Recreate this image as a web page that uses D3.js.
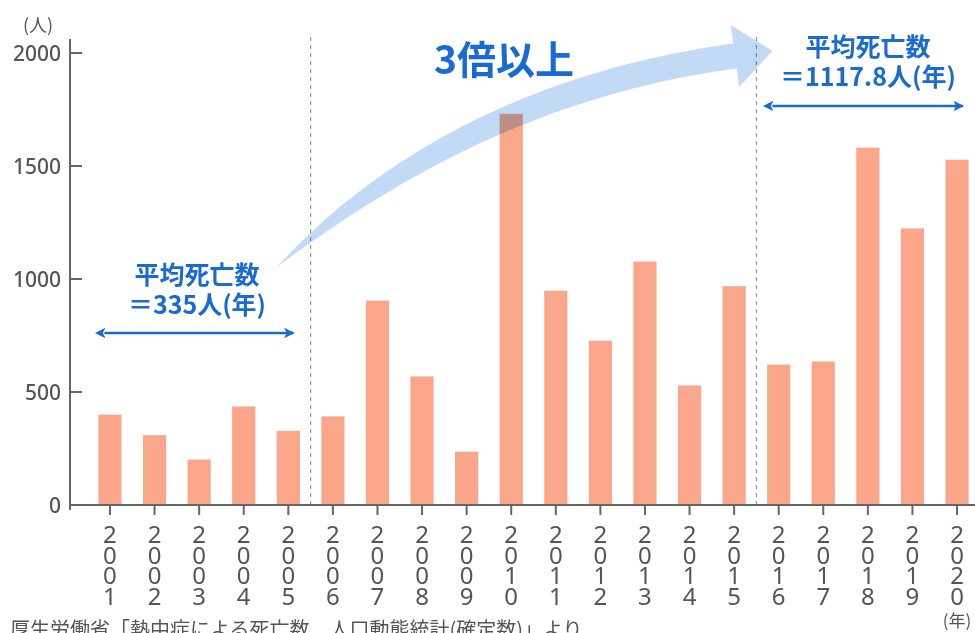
<!DOCTYPE html>
<html>
<head>
<meta charset="utf-8">
<script src="https://cdn.jsdelivr.net/npm/d3@7"></script>
<style>
  body { margin: 0; background: #fff; }
  svg { display: block; }
</style>
</head>
<body>
<div id="chart"></div>
<script>
// data
const years = ["2001","2002","2003","2004","2005","2006","2007","2008","2009","2010",
               "2011","2012","2013","2014","2015","2016","2017","2018","2019","2020"];
const deaths = [400, 309, 201, 436, 328, 392, 904, 569, 236, 1731,
                948, 727, 1077, 529, 968, 621, 635, 1581, 1224, 1528];
const yTicks = [0, 500, 1000, 1500, 2000];
const avgEarlyLabel = "＝335人(年)";
const avgLateLabel = "＝1117.8人(年)";
const avgTitle = "平均死亡数";
const growthLabel = "3倍以上";
const sourceText = "厚生労働省「熱中症による死亡数　人口動態統計(確定数)」より";

const data = years.map((y, i) => ({ year: y, value: deaths[i] }));

const W = 975, H = 633;
const blue = "#1a6ad6";
const axisColor = "#666";
const textColor = "#555";

const svg = d3.select("#chart").append("svg")
    .attr("width", W)
    .attr("height", H);

const x = d3.scaleBand()
    .domain(years)
    .range([87.7, 979.3])
    .paddingInner(0.48)
    .paddingOuter(0.24);

const y = d3.scaleLinear()
    .domain([0, 2000])
    .range([505, 53]);

const axisX = 70;
const cx = d => x(d) + x.bandwidth() / 2;

// bars
svg.selectAll(".bar")
    .data(data)
    .enter().append("rect")
    .attr("class", "bar")
    .attr("x", d => x(d.year))
    .attr("y", d => y(d.value))
    .attr("width", x.bandwidth())
    .attr("height", d => y(0) - y(d.value))
    .attr("fill", "#f9a68b");

// dashed separators between 2005/2006 and 2015/2016
const sep1 = (cx("2005") + cx("2006")) / 2;
const sep2 = (cx("2015") + cx("2016")) / 2;
[sep1, sep2].forEach(sx => {
    svg.append("line")
        .attr("x1", sx).attr("x2", sx)
        .attr("y1", 37).attr("y2", y(0))
        .attr("stroke", "#9a9a9a")
        .attr("stroke-width", 1.2)
        .attr("stroke-dasharray", "4,4");
});

// y axis
svg.append("line")
    .attr("x1", axisX).attr("x2", axisX)
    .attr("y1", 39).attr("y2", y(0) + 5)
    .attr("stroke", axisColor).attr("stroke-width", 2);

svg.selectAll(".ytick")
    .data(yTicks)
    .enter().append("line")
    .attr("x1", axisX).attr("x2", axisX + 12)
    .attr("y1", d => y(d)).attr("y2", d => y(d))
    .attr("stroke", axisColor).attr("stroke-width", 2);

svg.selectAll(".ylabel")
    .data(yTicks)
    .enter().append("text")
    .attr("x", 61)
    .attr("y", d => y(d) + 7.5)
    .attr("text-anchor", "end")
    .attr("font-family", "'Noto Sans', sans-serif")
    .attr("font-size", 21)
    .attr("font-weight", 500)
    .attr("fill", textColor)
    .text(d => d);

svg.append("text")
    .attr("x", 38).attr("y", 32)
    .attr("text-anchor", "middle")
    .attr("font-family", "'Noto Sans CJK JP', sans-serif")
    .attr("font-size", 18)
    .attr("fill", textColor)
    .text("(人)");

// x axis
svg.append("line")
    .attr("x1", axisX).attr("x2", W)
    .attr("y1", y(0)).attr("y2", y(0))
    .attr("stroke", axisColor).attr("stroke-width", 2);

svg.selectAll(".xtick")
    .data(years)
    .enter().append("line")
    .attr("x1", d => cx(d)).attr("x2", d => cx(d))
    .attr("y1", y(0)).attr("y2", y(0) + 10)
    .attr("stroke", axisColor).attr("stroke-width", 2);

// stacked digit labels
const xl = svg.selectAll(".xlabel")
    .data(years)
    .enter().append("text")
    .attr("text-anchor", "middle")
    .attr("font-family", "'Noto Sans', sans-serif")
    .attr("font-size", 24)
    .attr("fill", textColor);

xl.selectAll("tspan")
    .data(d => d.split("").map(c => ({ c, x: cx(d) })))
    .enter().append("tspan")
    .attr("x", d => d.x)
    .attr("y", (d, i) => 543 + i * 20.7)
    .text(d => d.c);

svg.append("text")
    .attr("x", cx("2020")).attr("y", 627)
    .attr("text-anchor", "middle")
    .attr("font-family", "'Noto Sans CJK JP', sans-serif")
    .attr("font-size", 17)
    .attr("fill", textColor)
    .text("(年)");

// source (cut off at bottom, as in the picture)
svg.append("text")
    .attr("x", 10).attr("y", 637)
    .attr("font-family", "'Noto Sans CJK JP', sans-serif")
    .attr("font-size", 20)
    .attr("fill", textColor)
    .text(sourceText);

// curved growth arrow
const P0 = [277, 267], P1 = [470, 92], P2 = [735, 56];
const bez = t => [
    (1 - t) * (1 - t) * P0[0] + 2 * t * (1 - t) * P1[0] + t * t * P2[0],
    (1 - t) * (1 - t) * P0[1] + 2 * t * (1 - t) * P1[1] + t * t * P2[1]
];
const tan = t => {
    const dx = 2 * (1 - t) * (P1[0] - P0[0]) + 2 * t * (P2[0] - P1[0]);
    const dy = 2 * (1 - t) * (P1[1] - P0[1]) + 2 * t * (P2[1] - P1[1]);
    const L = Math.hypot(dx, dy);
    return [dx / L, dy / L];
};
const upper = [], lower = [];
d3.range(0, 1.0001, 1 / 60).forEach(t => {
    const c = bez(t), d = tan(t);
    const n = [d[1], -d[0]];           // points up/left
    const w = 12.5 * (1 - Math.pow(1 - t, 4));
    upper.push([c[0] + n[0] * w, c[1] + n[1] * w]);
    lower.push([c[0] - n[0] * w, c[1] - n[1] * w]);
});
const cEnd = bez(1), dEnd = tan(1), nEnd = [dEnd[1], -dEnd[0]];
const head = [
    [cEnd[0] + nEnd[0] * 31, cEnd[1] + nEnd[1] * 31],
    [cEnd[0] + dEnd[0] * 38, cEnd[1] + dEnd[1] * 38],
    [cEnd[0] - nEnd[0] * 31, cEnd[1] - nEnd[1] * 31]
];
const poly = upper.concat(head, lower.reverse());
svg.append("path")
    .attr("d", d3.line()(poly) + "Z")
    .attr("fill", "#bcd6f5")
    .attr("opacity", 0.9)
    .style("mix-blend-mode", "multiply");

svg.append("text")
    .attr("x", 504).attr("y", 74)
    .attr("text-anchor", "middle")
    .attr("font-family", "'Noto Sans CJK JP', sans-serif")
    .attr("font-size", 39)
    .attr("font-weight", 700)
    .attr("fill", blue)
    .text(growthLabel);

// average annotations with double arrows
const defs = svg.append("defs");
["arrowS", "arrowE"].forEach((id, i) => {
    defs.append("marker")
        .attr("id", id)
        .attr("viewBox", "0 0 10 10")
        .attr("refX", i ? 9 : 1).attr("refY", 5)
        .attr("markerWidth", 4.2).attr("markerHeight", 4.2)
        .attr("markerUnits", "strokeWidth")
        .attr("orient", "auto-start-reverse")
        .append("path")
        .attr("d", "M0,0 L10,5 L0,10 L2.5,5 Z")
        .attr("fill", blue);
});

function avgNote(xc, yTop, label, ax1, ax2, ay) {
    svg.append("text")
        .attr("x", xc).attr("y", yTop)
        .attr("text-anchor", "middle")
        .attr("font-family", "'Noto Sans CJK JP', sans-serif")
        .attr("font-size", 25)
        .attr("font-weight", 700)
        .attr("fill", blue)
        .text(avgTitle);
    svg.append("text")
        .attr("x", xc).attr("y", yTop + 30)
        .attr("text-anchor", "middle")
        .attr("font-family", "'Noto Sans CJK JP', sans-serif")
        .attr("font-size", 25)
        .attr("font-weight", 700)
        .attr("fill", blue)
        .text(label);
    svg.append("line")
        .attr("x1", ax1).attr("x2", ax2)
        .attr("y1", ay).attr("y2", ay)
        .attr("stroke", blue)
        .attr("stroke-width", 2.5)
        .attr("marker-start", "url(#arrowS)")
        .attr("marker-end", "url(#arrowE)");
}

avgNote(197, 284, avgEarlyLabel, x("2001") + 6, sep1 - 17, 333);
avgNote(868, 56, avgLateLabel, sep2 + 16, W - 12, 106);
</script>
</body>
</html>
